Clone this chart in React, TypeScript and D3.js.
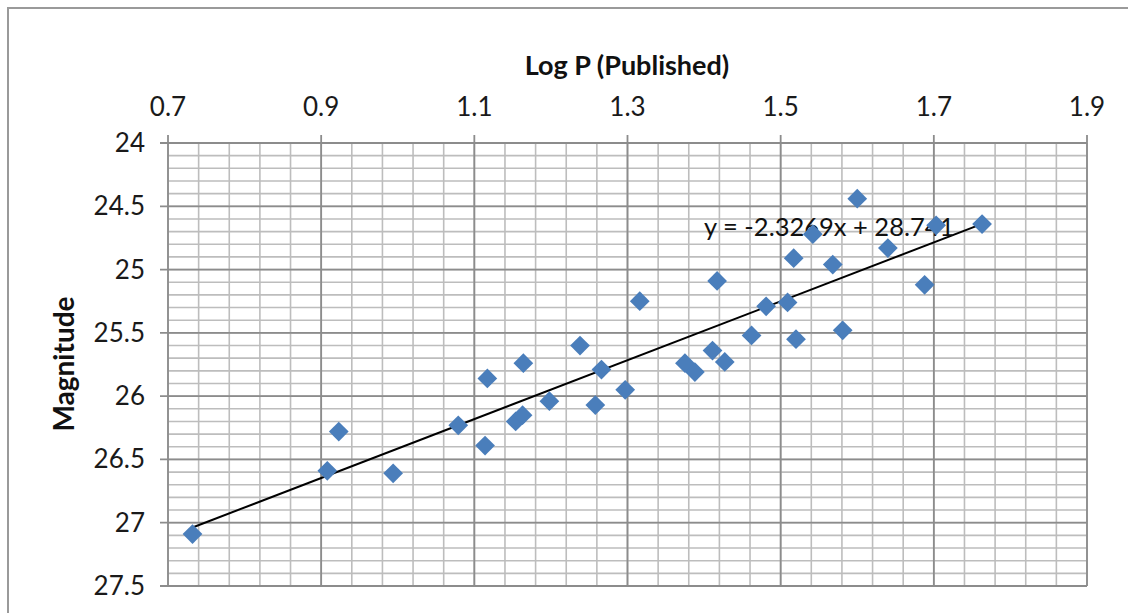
import React, { useRef, useEffect } from 'react';
import * as d3 from 'd3';

// Log P (published) vs magnitude
const logP = [
  0.732, 0.908, 0.923, 0.994, 1.079, 1.117, 1.114, 1.154, 1.163, 1.164,
  1.198, 1.238, 1.258, 1.266, 1.297, 1.316, 1.375, 1.388, 1.411, 1.417,
  1.427, 1.462, 1.481, 1.509, 1.517, 1.520, 1.542, 1.568, 1.581, 1.600,
  1.640, 1.688, 1.703, 1.763
];
const magnitude = [
  27.09, 26.59, 26.28, 26.61, 26.23, 25.86, 26.39, 26.20, 26.15, 25.74,
  26.04, 25.60, 26.07, 25.79, 25.95, 25.25, 25.74, 25.81, 25.64, 25.09,
  25.73, 25.52, 25.29, 25.26, 24.91, 25.55, 24.72, 24.96, 25.48, 24.44,
  24.83, 25.12, 24.65, 24.64
];
const xTicks = [0.7, 0.9, 1.1, 1.3, 1.5, 1.7, 1.9];
const yTicks = [24, 24.5, 25, 25.5, 26, 26.5, 27, 27.5];
const slope = -2.3269;
const intercept = 28.741;

function App() {
  const svgRef = useRef(null);

  useEffect(() => {
    const width = 1128;
    const height = 613;
    const margin = { top: 143, right: 41, bottom: 27, left: 168 };
    const font = 'Lato, "Open Sans", sans-serif';

    const svg = d3.select(svgRef.current)
      .attr('width', width)
      .attr('height', height);
    svg.selectAll('*').remove();

    // outer chart frame
    svg.append('rect')
      .attr('x', 8).attr('y', 8)
      .attr('width', width + 20).attr('height', height + 20)
      .attr('fill', 'white')
      .attr('stroke', '#9a9a9a')
      .attr('stroke-width', 2);

    const x = d3.scaleLinear().domain([0.7, 1.9]).range([margin.left, width - margin.right]);
    const y = d3.scaleLinear().domain([24, 27.5]).range([margin.top, height - margin.bottom]);

    const g = svg.append('g');

    // minor grid
    const xMinor = d3.range(0, 31).map(i => 0.7 + i * 0.04);
    const yMinor = d3.range(0, 36).map(i => 24 + i * 0.1);
    g.selectAll('line.yminor').data(yMinor).enter().append('line')
      .attr('x1', x(0.7)).attr('x2', x(1.9))
      .attr('y1', d => y(d)).attr('y2', d => y(d))
      .attr('stroke', '#bdbdbd').attr('stroke-width', 1.6);
    g.selectAll('line.xminor').data(xMinor).enter().append('line')
      .attr('y1', y(24)).attr('y2', y(27.5))
      .attr('x1', d => x(d)).attr('x2', d => x(d))
      .attr('stroke', '#bdbdbd').attr('stroke-width', 1.6);

    // major grid + ticks
    g.selectAll('line.ymajor').data(yTicks).enter().append('line')
      .attr('x1', x(0.7) - 8).attr('x2', x(1.9))
      .attr('y1', d => y(d)).attr('y2', d => y(d))
      .attr('stroke', '#8c8c8c').attr('stroke-width', 1.8);
    g.selectAll('line.xmajor').data(xTicks).enter().append('line')
      .attr('y1', y(24) - 8).attr('y2', y(27.5))
      .attr('x1', d => x(d)).attr('x2', d => x(d))
      .attr('stroke', '#8c8c8c').attr('stroke-width', 1.8);

    // tick labels
    svg.selectAll('text.xt').data(xTicks).enter().append('text')
      .attr('x', d => x(d)).attr('y', 116)
      .attr('text-anchor', 'middle')
      .attr('font-family', font).attr('font-size', 26)
      .attr('fill', '#1a1a1a')
      .text(d => d3.format('.1f')(d));
    svg.selectAll('text.yt').data(yTicks).enter().append('text')
      .attr('x', 145).attr('y', d => y(d) + 9)
      .attr('text-anchor', 'end')
      .attr('font-family', font).attr('font-size', 26)
      .attr('fill', '#1a1a1a')
      .text(d => d);

    // axis titles
    svg.append('text')
      .attr('x', 627).attr('y', 75)
      .attr('text-anchor', 'middle')
      .attr('font-family', font).attr('font-size', 27).attr('font-weight', 'bold')
      .attr('fill', '#111')
      .text('Log P (Published)');
    svg.append('text')
      .attr('transform', 'translate(74,364) rotate(-90)')
      .attr('text-anchor', 'middle')
      .attr('font-family', font).attr('font-size', 28).attr('font-weight', 'bold')
      .attr('fill', '#111')
      .text('Magnitude');

    // trendline
    const [x0, x1] = d3.extent(logP);
    const line = d3.line().x(d => x(d)).y(d => y(slope * d + intercept));
    g.append('path')
      .datum([x0, x1])
      .attr('d', line)
      .attr('fill', 'none')
      .attr('stroke', 'black')
      .attr('stroke-width', 2);

    svg.append('text')
      .attr('x', 704).attr('y', 236)
      .attr('font-family', font).attr('font-size', 25.5)
      .attr('fill', '#111')
      .text('y = -2.3269x + 28.741');

    // points
    const sym = d3.symbol().type(d3.symbolSquare).size(195);
    const pts = logP.map((v, i) => ({ x: v, y: magnitude[i] }));
    svg.selectAll('path.pt').data(pts).enter().append('path')
      .attr('d', sym)
      .attr('transform', d => `translate(${x(d.x)},${y(d.y)}) rotate(45)`)
      .attr('fill', '#4a7ebb');
  }, []);

  return (
    <svg ref={svgRef} style={{ position: 'absolute', left: 0, top: 0 }}></svg>
  );
}

export default App;
